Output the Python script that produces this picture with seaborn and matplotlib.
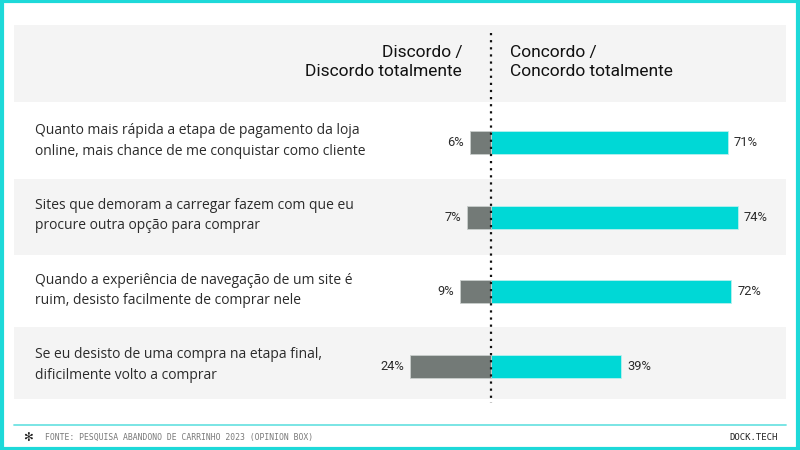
import matplotlib
matplotlib.use("Agg")
import matplotlib.pyplot as plt
import matplotlib.transforms as mtransforms
from matplotlib.patches import Rectangle
from matplotlib.lines import Line2D
import seaborn as sns
import pandas as pd

# ---- data ----
questions = [
    "Quanto mais rápida a etapa de pagamento da loja\nonline, mais chance de me conquistar como cliente",
    "Sites que demoram a carregar fazem com que eu\nprocure outra opção para comprar",
    "Quando a experiência de navegação de um site é\nruim, desisto facilmente de comprar nele",
    "Se eu desisto de uma compra na etapa final,\ndificilmente volto a comprar",
]
discordo = [6, 7, 9, 24]
concordo = [71, 74, 72, 39]
header_left = "Discordo /\nDiscordo totalmente"
header_right = "Concordo /\nConcordo totalmente"
source_text = "FONTE: PESQUISA ABANDONO DE CARRINHO 2023 (OPINION BOX)"
brand_text = "DOCK.TECH"

df = pd.DataFrame({"q": questions, "disc": [-v for v in discordo], "conc": concordo})

CYAN = "#00D8D6"
GREY = "#737A77"
BAND = "#F4F4F4"
TEXT = "#2B2B2B"

sns.set_theme(style="white")
plt.rcParams["font.family"] = ["Lato", "DejaVu Sans"]

W, H = 800, 450
fig = plt.figure(figsize=(8, 4.5), dpi=100)
fig.patch.set_facecolor("white")

def fx(px):
    return px / W

def fy(py):
    return 1 - py / H

# background bands (figure level)
def band(x0, y0, x1, y1, color):
    fig.patches.append(Rectangle((fx(x0), fy(y1)), fx(x1) - fx(x0), fy(y0) - fy(y1),
                                 transform=fig.transFigure, facecolor=color,
                                 edgecolor="none", zorder=-5))

band(14, 25, 786, 102, BAND)
band(14, 179, 786, 255, BAND)
band(14, 327, 786, 399, BAND)

# outer cyan border
fig.patches.append(Rectangle((0.002, 0.003), 0.996, 0.994, transform=fig.transFigure,
                             facecolor="none", edgecolor="#1ED9D9", linewidth=3, zorder=5))
# footer line
fig.lines.append(Line2D([fx(14), fx(786)], [fy(424.5), fy(424.5)], transform=fig.transFigure,
                        color="#6FE3E3", linewidth=1.3))

# axes placed so that 0% is at px 490.5, 3.34 px per %
zero_px, ppp = 490.5, 3.34
ax_l, ax_r = 14, 786
ax_t, ax_b = 142.5 - 37.33, 366.5 + 37.33
ax = fig.add_axes([fx(ax_l), fy(ax_b), fx(ax_r) - fx(ax_l), (ax_b - ax_t) / H])
ax.patch.set_alpha(0)
ax.set_zorder(2)

sns.barplot(data=df, y="q", x="conc", orient="h", color=CYAN, width=0.31,
            saturation=1, edgecolor="#B8F0EE", linewidth=0.6, ax=ax, zorder=2)
sns.barplot(data=df, y="q", x="disc", orient="h", color=GREY, width=0.31,
            saturation=1, edgecolor="#C9CECC", linewidth=0.6, ax=ax, zorder=2)

ax.set_xlim((ax_l - zero_px) / ppp, (ax_r - zero_px) / ppp)
ax.set_ylim(len(questions) - 0.5, -0.5)
ax.set_xticks([])
ax.set_yticks([])
ax.set_xlabel("")
ax.set_ylabel("")
for s in ax.spines.values():
    s.set_visible(False)

# dotted centre line
y_top = -0.5 - (ax_t - 33) / 74.67
y_bot = len(questions) - 0.5 + (403 - ax_b) / 74.67
ax.plot([0, 0], [y_top, y_bot], color="#111111", linestyle=(0, (1, 2.2)),
        linewidth=1.6, clip_on=False, zorder=4)

# value labels
for i, (d, c) in enumerate(zip(discordo, concordo)):
    ax.annotate(f"{c}%", (c, i), xytext=(4.5, 0), textcoords="offset points",
                ha="left", va="center", fontsize=9.3, color=TEXT, family="Roboto")
    ax.annotate(f"{d}%", (-d, i), xytext=(-4.5, 0), textcoords="offset points",
                ha="right", va="center", fontsize=9.3, color=TEXT, family="Roboto")

# question labels
blend = mtransforms.blended_transform_factory(fig.transFigure, ax.transData)
for i, q in enumerate(questions):
    ax.text(fx(35), i - 0.02, q, transform=blend, ha="left", va="center",
            fontsize=10, color=TEXT, linespacing=1.5, family=["Open Sans", "DejaVu Sans"])

# headers
fig.text(fx(462), fy(62), header_left, ha="right", va="center", fontsize=12.5,
         family="Roboto", fontweight="normal", color="#111111", linespacing=1.3)
fig.text(fx(510), fy(62), header_right, ha="left", va="center", fontsize=12.5,
         family="Roboto", fontweight="normal", color="#111111", linespacing=1.3)

# footer
fig.text(fx(28), fy(437.5), "✻", ha="center", va="center", fontsize=8.5,
         color="#222222", family="DejaVu Sans", fontweight="bold")
fig.text(fx(45), fy(437.5), source_text, ha="left", va="center", fontsize=5.9,
         color="#7A7A7A", family="DejaVu Sans Mono")
fig.text(fx(778), fy(437.5), brand_text, ha="right", va="center", fontsize=6.5,
         color="#222222", family="DejaVu Sans Mono")

fig.savefig("out.png", dpi=100)
